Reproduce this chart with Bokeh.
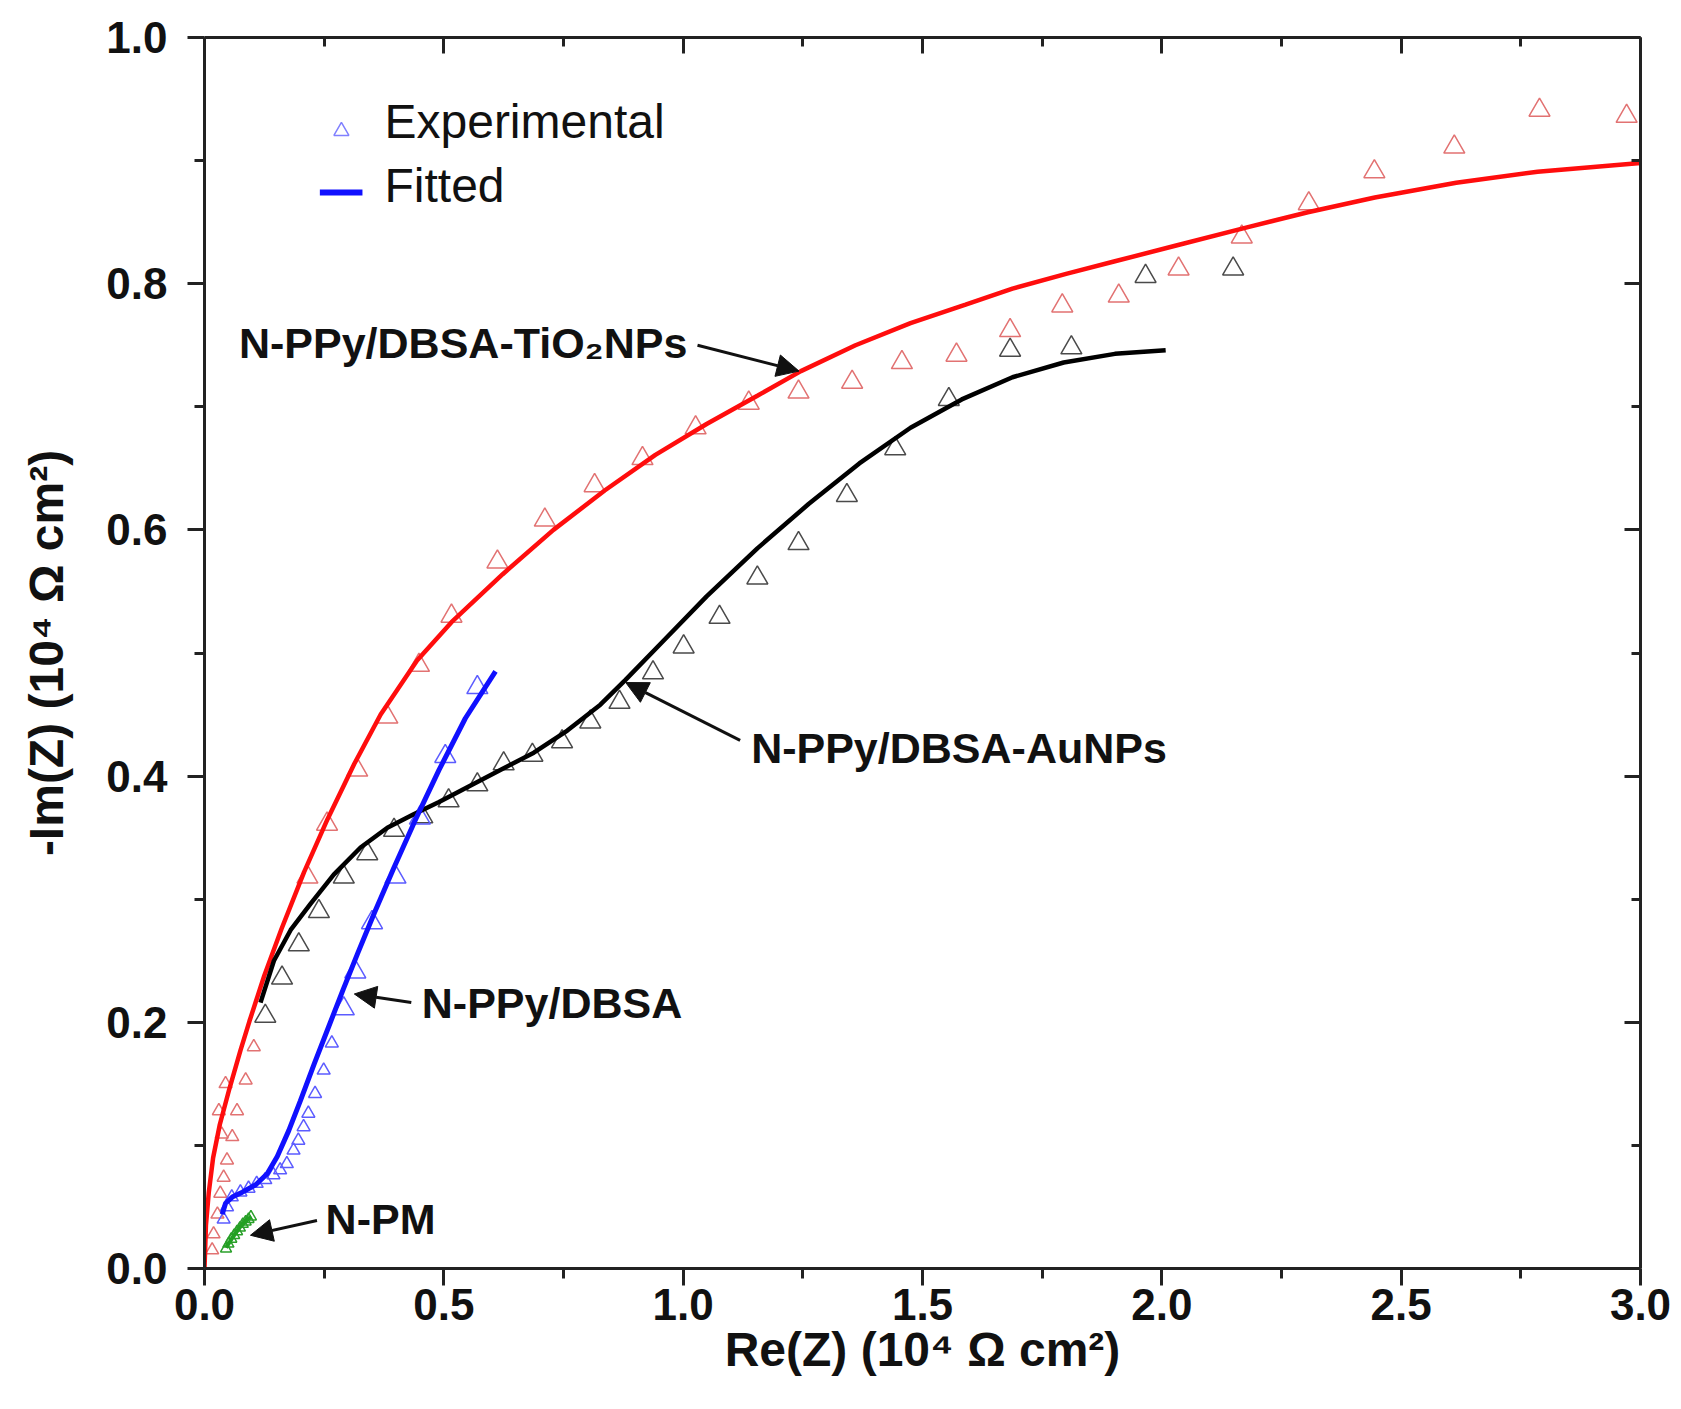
from bokeh.plotting import figure
from bokeh.models import (Range1d, LinearAxis, FixedTicker, PrintfTickFormatter,
                          CustomJSTickFormatter, ColumnDataSource, Arrow, NormalHead)
from bokeh.core.properties import value
from bokeh.embed import file_html
from bokeh.resources import INLINE

# ---------------- data ----------------
# N-PPy/DBSA-TiO2NPs (red)
red_exp_x_low = [0.016, 0.019, 0.027, 0.033, 0.040, 0.047, 0.058, 0.068, 0.086, 0.103, 0.030, 0.036, 0.044]
red_exp_y_low = [0.015, 0.028, 0.044, 0.061, 0.074, 0.088, 0.107, 0.128, 0.153, 0.180, 0.128, 0.109, 0.150]
red_exp_x = [0.215, 0.256, 0.319, 0.382, 0.448, 0.516, 0.612, 0.711, 0.815, 0.915, 1.026, 1.137,
             1.241, 1.353, 1.457, 1.571, 1.683, 1.792, 1.910, 2.035, 2.167, 2.307, 2.444, 2.611,
             2.789, 2.971]
red_exp_y = [0.318, 0.361, 0.405, 0.448, 0.490, 0.530, 0.574, 0.608, 0.636, 0.658, 0.683, 0.703,
             0.712, 0.720, 0.736, 0.742, 0.762, 0.782, 0.790, 0.812, 0.838, 0.865, 0.891, 0.911,
             0.941, 0.936]
red_fit_x = [0.0, 0.003, 0.009, 0.018, 0.032, 0.052, 0.075, 0.094, 0.125, 0.161, 0.208, 0.257,
             0.313, 0.368, 0.444, 0.516, 0.623, 0.729, 0.836, 0.942, 1.049, 1.155, 1.246, 1.360,
             1.475, 1.590, 1.688, 1.800, 1.900, 2.030, 2.180, 2.305, 2.445, 2.615, 2.785, 3.0]
red_fit_y = [0.0, 0.035, 0.062, 0.090, 0.117, 0.146, 0.177, 0.201, 0.238, 0.276, 0.322, 0.365,
             0.410, 0.450, 0.494, 0.525, 0.564, 0.600, 0.632, 0.661, 0.686, 0.709, 0.729, 0.750,
             0.768, 0.783, 0.796, 0.808, 0.818, 0.831, 0.846, 0.858, 0.870, 0.882, 0.891, 0.898]

# N-PPy/DBSA-AuNPs (black)
blk_exp_x = [0.127, 0.162, 0.197, 0.239, 0.291, 0.340, 0.396, 0.455, 0.510, 0.570, 0.625, 0.685,
             0.747, 0.806, 0.867, 0.937, 1.001, 1.076, 1.155, 1.241, 1.342, 1.443, 1.555, 1.683,
             1.811, 1.966, 2.149]
blk_exp_y = [0.205, 0.236, 0.263, 0.290, 0.318, 0.337, 0.356, 0.367, 0.380, 0.393, 0.410, 0.417,
             0.428, 0.444, 0.460, 0.484, 0.505, 0.529, 0.561, 0.589, 0.628, 0.666, 0.706, 0.746,
             0.748, 0.806, 0.812]
blk_fit_x = [0.117, 0.145, 0.180, 0.221, 0.270, 0.326, 0.382, 0.437, 0.490, 0.549, 0.618, 0.688,
             0.758, 0.827, 0.879, 0.964, 1.049, 1.155, 1.262, 1.368, 1.475, 1.582, 1.688, 1.795,
             1.902, 2.008]
blk_fit_y = [0.216, 0.250, 0.275, 0.296, 0.320, 0.342, 0.358, 0.369, 0.379, 0.391, 0.405, 0.419,
             0.437, 0.458, 0.478, 0.512, 0.546, 0.585, 0.621, 0.654, 0.683, 0.706, 0.724, 0.736,
             0.743, 0.746]

# N-PPy/DBSA (blue)
blu_exp_x_low = [0.040, 0.047, 0.057, 0.075, 0.092, 0.109, 0.127, 0.144, 0.158, 0.172, 0.186,
                 0.196, 0.207, 0.217, 0.231, 0.249, 0.266]
blu_exp_y_low = [0.040, 0.050, 0.058, 0.062, 0.065, 0.069, 0.072, 0.076, 0.080, 0.085, 0.096,
                 0.104, 0.115, 0.126, 0.142, 0.161, 0.183]
blu_exp_x = [0.291, 0.315, 0.350, 0.399, 0.450, 0.503, 0.570]
blu_exp_y = [0.211, 0.241, 0.281, 0.318, 0.366, 0.416, 0.472]
blu_fit_x = [0.037, 0.044, 0.058, 0.079, 0.107, 0.131, 0.152, 0.176, 0.200, 0.230, 0.260, 0.290,
             0.320, 0.355, 0.395, 0.440, 0.490, 0.545, 0.608]
blu_fit_y = [0.044, 0.053, 0.058, 0.062, 0.068, 0.077, 0.091, 0.112, 0.136, 0.167, 0.197, 0.227,
             0.256, 0.289, 0.325, 0.364, 0.405, 0.447, 0.485]

# N-PM (green)
grn_exp_x = [0.045, 0.050, 0.056, 0.062, 0.068, 0.074, 0.080, 0.086, 0.092, 0.097]
grn_exp_y = [0.016, 0.020, 0.024, 0.027, 0.030, 0.033, 0.036, 0.038, 0.040, 0.042]
grn_fit_x = [0.045, 0.060, 0.075, 0.090, 0.098]
grn_fit_y = [0.017, 0.026, 0.034, 0.040, 0.042]

# annotations
label_text = ["N-PPy/DBSA-TiO\u2082NPs", "N-PPy/DBSA-AuNPs", "N-PPy/DBSA", "N-PM"]
label_x = [0.072, 1.142, 0.454, 0.253]
label_y = [0.752, 0.423, 0.216, 0.040]
arrow_x0 = [1.030, 1.119, 0.432, 0.235]
arrow_y0 = [0.750, 0.429, 0.216, 0.039]
arrow_x1 = [1.242, 0.880, 0.313, 0.096]
arrow_y1 = [0.729, 0.476, 0.223, 0.027]

# legend
legend_labels = ["Experimental", "Fitted"]
legend_text_x = [0.376, 0.376]
legend_text_y = [0.932, 0.880]
legend_marker_x = [0.286]
legend_marker_y = [0.924]
legend_line_x = [0.241, 0.330]
legend_line_y = [0.874, 0.874]

x_ticks = [0.0, 0.5, 1.0, 1.5, 2.0, 2.5, 3.0]
x_minor = [0.25, 0.75, 1.25, 1.75, 2.25, 2.75]
y_ticks = [0.0, 0.2, 0.4, 0.6, 0.8, 1.0]
y_minor = [0.1, 0.3, 0.5, 0.7, 0.9]

# ---------------- figure ----------------
FONT = "Liberation Sans"
AX = "#222222"

p = figure(width=1672, height=1400, output_backend="svg", toolbar_location=None,
           x_range=Range1d(0, 3), y_range=Range1d(0, 1),
           min_border_left=204, min_border_right=32, min_border_top=37, min_border_bottom=132,
           x_axis_label="Re(Z) (10\u2074 \u03a9 cm\u00b2)",
           y_axis_label="-Im(Z) (10\u2074 \u03a9 cm\u00b2)")
p.background_fill_color = "white"
p.border_fill_color = "white"
p.outline_line_color = None
p.xgrid.grid_line_color = None
p.ygrid.grid_line_color = None

def style_main(ax, ticks, minor):
    ax.ticker = FixedTicker(ticks=ticks, minor_ticks=minor)
    ax.formatter = PrintfTickFormatter(format="%.1f")
    ax.axis_line_width = 3
    ax.axis_line_color = AX
    ax.major_tick_line_width = 3
    ax.minor_tick_line_width = 3
    ax.major_tick_line_color = AX
    ax.minor_tick_line_color = AX
    ax.major_tick_out = 17
    ax.major_tick_in = 0
    ax.minor_tick_out = 10
    ax.minor_tick_in = 0
    ax.major_label_text_font = FONT
    ax.major_label_text_font_style = "bold"
    ax.major_label_text_font_size = "44px"
    ax.major_label_text_color = "#111111"
    ax.axis_label_text_font = FONT
    ax.axis_label_text_font_style = "bold"
    ax.axis_label_text_font_size = "48px"
    ax.axis_label_text_color = "#111111"

style_main(p.xaxis[0], x_ticks, x_minor)
style_main(p.yaxis[0], y_ticks, y_minor)
p.xaxis[0].major_label_standoff = 3
p.xaxis[0].axis_label_standoff = 0
p.yaxis[0].major_label_standoff = 20
p.yaxis[0].axis_label_standoff = 30

def mirror_axis(ticks, minor):
    ax = LinearAxis(ticker=FixedTicker(ticks=ticks, minor_ticks=minor),
                    formatter=CustomJSTickFormatter(code="return '';"))
    ax.axis_line_width = 3
    ax.axis_line_color = AX
    ax.major_tick_line_width = 3
    ax.minor_tick_line_width = 3
    ax.major_tick_line_color = AX
    ax.minor_tick_line_color = AX
    ax.major_tick_in = 16
    ax.major_tick_out = 0
    ax.minor_tick_in = 9
    ax.minor_tick_out = 0
    ax.major_label_text_font_size = "1px"
    ax.major_label_standoff = 0
    return ax

p.add_layout(mirror_axis(x_ticks, x_minor), "above")
p.add_layout(mirror_axis(y_ticks, y_minor), "right")

# experimental points
RED_M = "#e27272"
BLK_M = "#4a4a4a"
BLU_M = "#5c5cff"
GRN_M = "#2aa02a"

p.scatter(red_exp_x_low, red_exp_y_low, marker="triangle", size=13, fill_color=None,
          line_color=RED_M, line_width=1.5)
p.scatter(red_exp_x, red_exp_y, marker="triangle", size=21, fill_color=None,
          line_color=RED_M, line_width=1.5)
p.scatter(blk_exp_x, blk_exp_y, marker="triangle", size=21, fill_color=None,
          line_color=BLK_M, line_width=1.5)
p.scatter(blu_exp_x_low, blu_exp_y_low, marker="triangle", size=13, fill_color=None,
          line_color=BLU_M, line_width=1.5)
p.scatter(blu_exp_x, blu_exp_y, marker="triangle", size=21, fill_color=None,
          line_color=BLU_M, line_width=1.5)
p.scatter(grn_exp_x, grn_exp_y, marker="triangle", size=11, fill_color=None,
          line_color=GRN_M, line_width=1.5)

# fitted curves
p.line(red_fit_x, red_fit_y, line_color="#ff0d0d", line_width=4.5)
p.line(blk_fit_x, blk_fit_y, line_color="#000000", line_width=4.5)
p.line(blu_fit_x, blu_fit_y, line_color="#1010ff", line_width=5)
p.line(grn_fit_x, grn_fit_y, line_color="#22a022", line_width=4)

# annotations
p.text(x=label_x, y=label_y, text=label_text, text_font=value(FONT),
       text_font_style="bold", text_font_size="43px", text_color="#111111",
       text_align="left", text_baseline="middle")
arrow_src = ColumnDataSource(dict(x0=arrow_x0, y0=arrow_y0, x1=arrow_x1, y1=arrow_y1))
p.add_layout(Arrow(end=NormalHead(size=22, fill_color="#111111", line_color="#111111"),
                   x_start="x0", y_start="y0", x_end="x1", y_end="y1",
                   line_width=3, line_color="#111111", source=arrow_src))

# legend
p.scatter(legend_marker_x, legend_marker_y, marker="triangle", size=15, fill_color=None,
          line_color="#8080ff", line_width=1.5)
p.line(legend_line_x, legend_line_y, line_color="#1010ff", line_width=6)
p.text(x=legend_text_x, y=legend_text_y, text=legend_labels, text_font=value(FONT),
       text_font_size="48px", text_color="#111111", text_align="left",
       text_baseline="middle")

open("out.html", "w").write(file_html(p, INLINE))
